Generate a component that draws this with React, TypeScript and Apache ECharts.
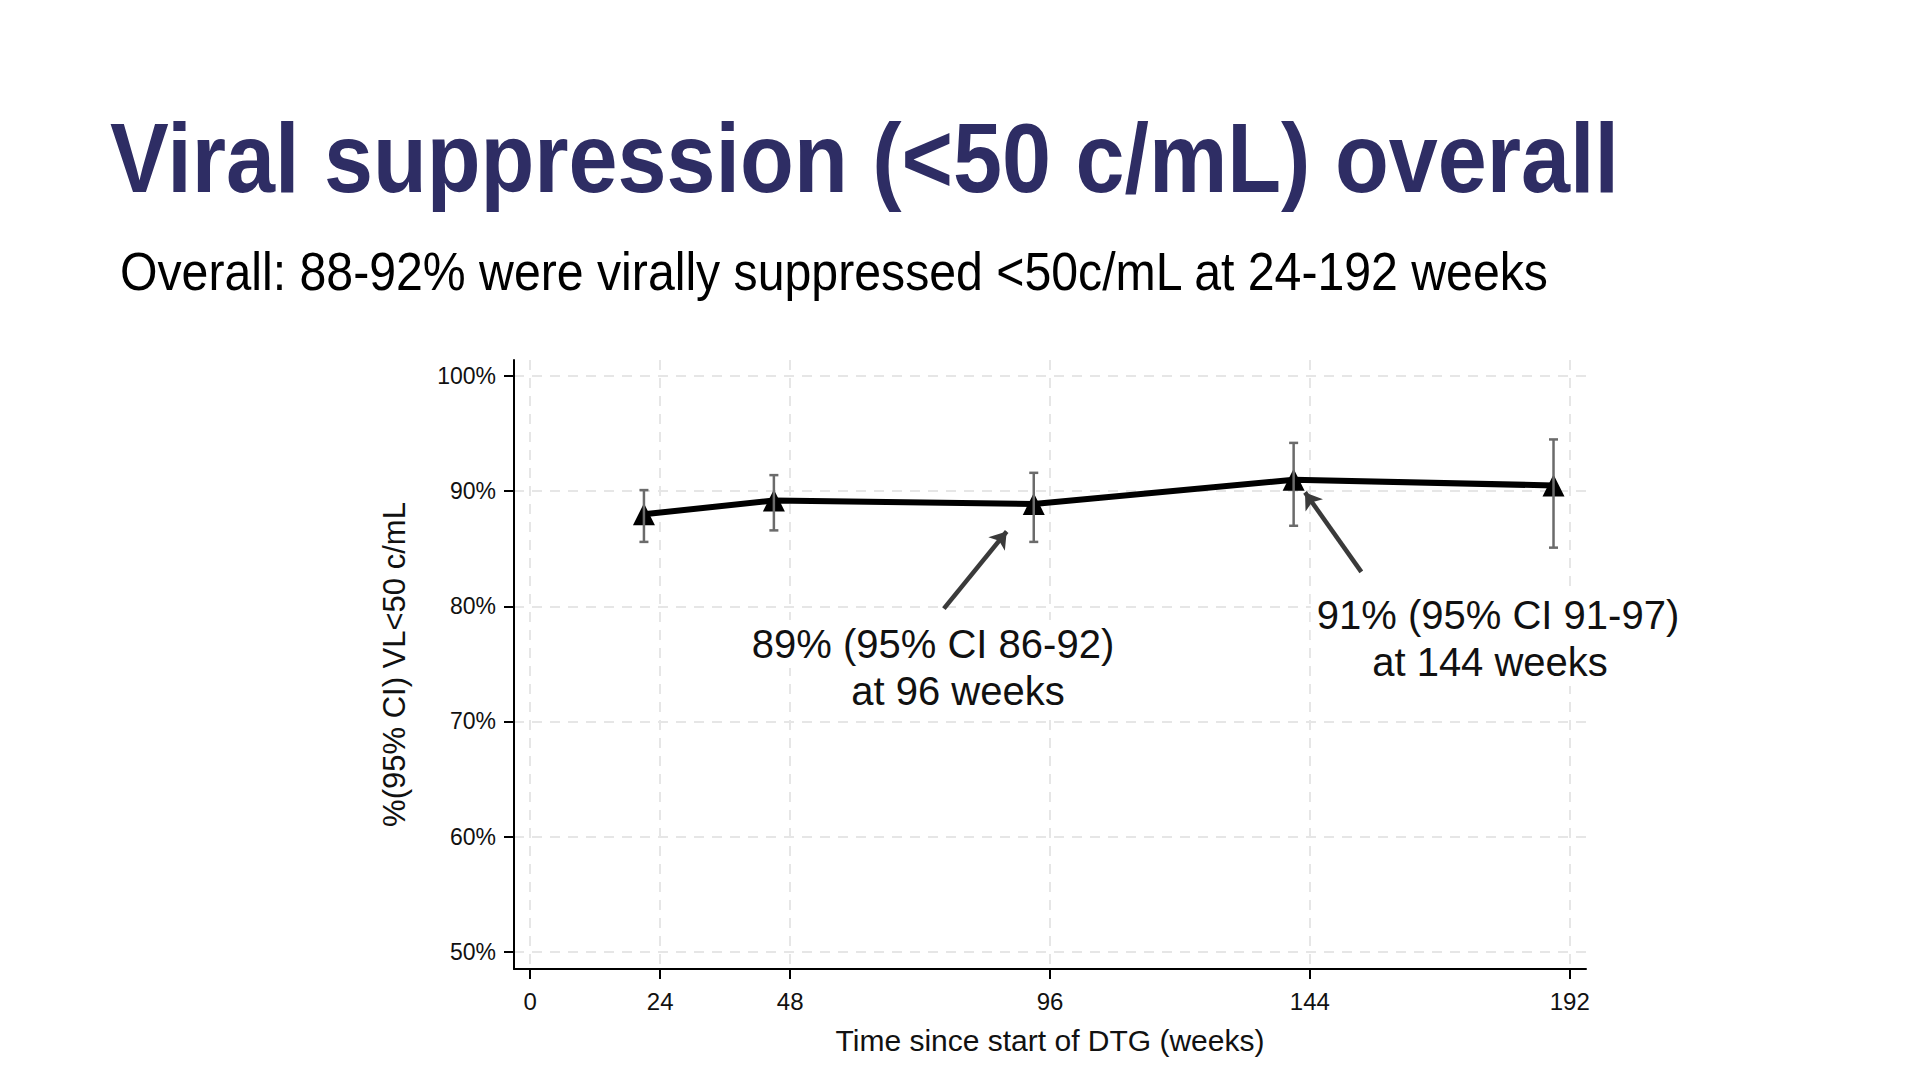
import React, { useEffect, useRef } from "react";
import * as echarts from "echarts";

// ---- data ----
const weeks = [21, 45, 93, 141, 189];
const suppressedPct = [88.0, 89.2, 88.9, 91.0, 90.5];
const ciLower = [85.6, 86.6, 85.6, 87.0, 85.1];
const ciUpper = [90.1, 91.4, 91.6, 94.2, 94.5];

const xTicks = [0, 24, 48, 96, 144, 192];
const yTicks = [50, 60, 70, 80, 90, 100];

const titleText = "Viral suppression (<50 c/mL) overall";
const subtitleText = "Overall: 88-92% were virally suppressed <50c/mL at 24-192 weeks";
const xAxisName = "Time since start of DTG (weeks)";
const yAxisName = "%(95% CI) VL<50 c/mL";

const note96 = ["89% (95% CI 86-92)", "at 96 weeks"];
const note144 = ["91% (95% CI 91-97)", "at 144 weeks"];

// arrows in data coordinates: [fromX, fromY, toX, toY]
const arrow96 = [76.4, 79.8, 88.0, 86.5];
const arrow144 = [153.5, 83.0, 143.1, 89.9];

const FONT = '"Liberation Sans", Arial, Helvetica, sans-serif';

export default function App() {
  const ref = useRef<HTMLDivElement>(null);

  useEffect(() => {
    if (!ref.current) return;
    const chart = echarts.init(ref.current, null, { renderer: "svg" });

    const gridDash = {
      show: true,
      lineStyle: { color: "#e6e6e6", width: 2, type: [10, 8] as any },
    };

    const noteStyle = (text: string) => ({
      text,
      font: `40px ${FONT}`,
      fill: "#111",
      align: "center",
      verticalAlign: "middle",
      backgroundColor: "#ffffff",
      padding: [4, 6, 4, 6],
    });

    const option: any = {
      animation: false,
      backgroundColor: "#ffffff",
      textStyle: { fontFamily: FONT },
      grid: { left: 514, top: 360, width: 1072, height: 609, containLabel: false },
      xAxis: {
        type: "value",
        min: -3,
        max: 195,
        name: xAxisName,
        nameLocation: "middle",
        nameGap: 56,
        nameTextStyle: { fontSize: 30, color: "#111", fontFamily: FONT },
        axisLine: { show: true, onZero: false, lineStyle: { color: "#000", width: 2 } },
        axisTick: { show: true, length: 10, lineStyle: { color: "#000", width: 2 }, customValues: xTicks },
        axisLabel: { fontSize: 24, color: "#111", margin: 20, fontFamily: FONT, customValues: xTicks },
        splitLine: gridDash,
      },
      yAxis: {
        type: "value",
        min: 48.5,
        max: 101.4,
        name: yAxisName,
        nameLocation: "middle",
        nameRotate: 90,
        nameGap: 104,
        nameTextStyle: { fontSize: 31, color: "#111", fontFamily: FONT },
        axisLine: { show: true, onZero: false, lineStyle: { color: "#000", width: 2 } },
        axisTick: { show: true, length: 10, lineStyle: { color: "#000", width: 2 }, customValues: yTicks },
        axisLabel: {
          fontSize: 23,
          color: "#111",
          margin: 18,
          fontFamily: FONT,
          customValues: yTicks,
          formatter: (v: number) => `${v}%`,
        },
        splitLine: gridDash,
      },
      series: [
        {
          type: "line",
          data: weeks.map((w, i) => [w, suppressedPct[i]]),
          symbol: "triangle",
          symbolSize: 22,
          itemStyle: { color: "#000" },
          lineStyle: { color: "#000", width: 6 },
          z: 3,
          markLine: {
            silent: true,
            symbol: ["none", "arrow"],
            symbolSize: 16,
            label: { show: false },
            lineStyle: { color: "#3a3a3a", width: 4.5, type: "solid" },
            data: [
              [
                { coord: [arrow96[0], arrow96[1]] },
                { coord: [arrow96[2], arrow96[3]] },
              ],
              [
                { coord: [arrow144[0], arrow144[1]] },
                { coord: [arrow144[2], arrow144[3]] },
              ],
            ],
          },
        },
        {
          type: "custom",
          z: 4,
          data: weeks.map((w, i) => [w, ciLower[i], ciUpper[i]]),
          encode: { x: 0, y: [1, 2] },
          renderItem: (params: any, api: any) => {
            const x = api.value(0);
            const lo = api.coord([x, api.value(1)]);
            const hi = api.coord([x, api.value(2)]);
            const half = 4.5;
            const st = { stroke: "#6b6b6b", lineWidth: 2.5 };
            return {
              type: "group",
              children: [
                { type: "line", shape: { x1: lo[0], y1: lo[1], x2: hi[0], y2: hi[1] }, style: st },
                { type: "line", shape: { x1: lo[0] - half, y1: lo[1], x2: lo[0] + half, y2: lo[1] }, style: st },
                { type: "line", shape: { x1: hi[0] - half, y1: hi[1], x2: hi[0] + half, y2: hi[1] }, style: st },
              ],
            };
          },
        },
      ],
      graphic: [
        {
          type: "text",
          x: 110,
          y: 158,
          scaleX: 0.89,
          z: 100,
          style: {
            text: titleText,
            font: `bold 99px ${FONT}`,
            fill: "#2E2D64",
            align: "left",
            verticalAlign: "middle",
          },
        },
        {
          type: "text",
          x: 120,
          y: 272,
          scaleX: 0.91,
          z: 100,
          style: {
            text: subtitleText,
            font: `53px ${FONT}`,
            fill: "#000",
            align: "left",
            verticalAlign: "middle",
          },
        },
        { type: "text", x: 933, y: 644, z: 100, style: noteStyle(note96[0]) },
        { type: "text", x: 958, y: 691, z: 100, style: noteStyle(note96[1]) },
        { type: "text", x: 1498, y: 615, z: 100, style: noteStyle(note144[0]) },
        { type: "text", x: 1490, y: 662, z: 100, style: noteStyle(note144[1]) },
      ],
    };

    chart.setOption(option);
    return () => chart.dispose();
  }, []);

  return (
    <div
      ref={ref}
      style={{ position: "fixed", left: 0, top: 0, width: 1920, height: 1080, background: "#fff" }}
    />
  );
}
